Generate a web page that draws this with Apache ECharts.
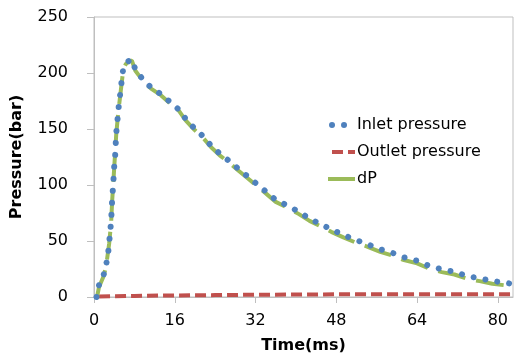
<!DOCTYPE html>
<html>
<head>
<meta charset="utf-8">
<script src="https://cdn.jsdelivr.net/npm/echarts@6/dist/echarts.min.js"></script>
<style>
  html, body { margin: 0; padding: 0; background: #fff; }
  #chart { width: 516px; height: 354px; }
</style>
</head>
<body>
<div id="chart"></div>
<script>
// [time ms, pressure bar]
const inletPressure = [
  [0.5, 0], [1.0, 10.7], [1.9, 19.6], [2.4, 28.6], [2.8, 39], [3.0, 48.5], [3.2, 58],
  [3.4, 68], [3.5, 78], [3.6, 87], [3.8, 100], [4.0, 116], [4.2, 127], [4.4, 146],
  [4.6, 155.6], [4.8, 165.5], [5.0, 175], [5.3, 185], [5.5, 194], [5.8, 204], [6.3, 208.6],
  [7.1, 211.6], [7.5, 212], [8.2, 203], [9.6, 194.6], [11.3, 187], [13.3, 181], [15.1, 174],
  [16.9, 167], [18.2, 158.7], [19.9, 150.6], [21.7, 143], [23.2, 135], [24.9, 128],
  [26.8, 121.4], [28.7, 114], [30.5, 107.4], [34.1, 94], [36, 86.6], [38.4, 81.5],
  [40.6, 76], [42.7, 70], [44.9, 65], [47, 60.4], [49.4, 55.4], [51.8, 51], [54.1, 47.3],
  [56.7, 42.6], [59, 39.6], [61.4, 35.4], [64, 32.4], [66.4, 27.7], [68.9, 24.7],
  [71.4, 22.6], [73.9, 18.75], [76.4, 16.7], [78.9, 14.3], [81.5, 12.8], [83, 11.5]
];
const outletPressure = [
  [1, 0.5], [8, 1.0], [16, 1.4], [24, 1.7], [32, 2.0], [40, 2.2], [48, 2.4],
  [56, 2.5], [64, 2.5], [72, 2.5], [83, 2.5]
];
const dP = [
  [0.6, 0], [1.0, 9], [1.9, 18.5], [2.4, 27.5], [3.0, 47.5], [3.4, 67], [3.6, 86],
  [4.0, 115], [4.4, 145], [4.8, 164.5], [5.3, 184], [5.8, 203], [6.3, 208], [7.1, 211],
  [7.5, 211], [8.2, 202], [9.6, 193.5], [11.3, 186], [13.3, 180], [15.1, 172.8],
  [16.9, 165.8], [18.2, 157.5], [19.9, 149.3], [21.7, 141.6], [23.2, 133.7], [24.9, 126.5],
  [26.8, 119.9], [28.7, 112.5], [30.5, 105.8], [34.1, 92.3], [36, 84.9], [38.4, 79.6],
  [40.6, 74], [42.7, 68], [44.9, 63], [47, 58.2], [49.4, 53.2], [51.8, 48.7], [54.1, 45],
  [56.7, 40.3], [59, 37.2], [61.4, 33], [64, 30], [66.4, 25.3], [68.9, 22.2], [71.4, 20.1],
  [73.9, 16.3], [76.4, 14.2], [78.9, 11.8], [81.5, 10.4], [83, 9.6]
];

const font = 'DejaVu Sans';
const axisGrey = '#bfbfbf';
const blue = '#4f81bd';
const red = '#c0504d';
const green = '#9bbb59';

const chart = echarts.init(document.getElementById('chart'));

const option = {
  animation: false,
  textStyle: { fontFamily: font },
  grid: {
    left: 94, right: 3, top: 17, bottom: 57,
    containLabel: false,
    outerBoundsMode: 'none',
    show: true, borderColor: axisGrey, borderWidth: 1
  },
  legend: {
    orient: 'vertical',
    left: 320,
    top: 111,
    itemWidth: 27,
    itemHeight: 14,
    itemGap: 9,
    itemStyle: { opacity: 0 },
    textStyle: { fontFamily: font, fontSize: 16, color: '#000', lineHeight: 18, padding: [0, 0, 0, -3] },
    data: [
      { name: 'Inlet pressure', lineStyle: { color: blue, width: 6, type: [0.01, 12], cap: 'round', dashOffset: -4 } },
      { name: 'Outlet pressure', lineStyle: { color: red, width: 4, type: [11, 5], cap: 'butt' } },
      { name: 'dP', lineStyle: { color: green, width: 4, type: 'solid' } }
    ]
  },
  xAxis: {
    type: 'value',
    min: 0,
    max: 83,
    interval: 16,
    name: 'Time(ms)',
    nameLocation: 'middle',
    nameGap: 41,
    nameTextStyle: { fontFamily: font, fontSize: 16, fontWeight: 'bold', color: '#000' },
    axisLine: { lineStyle: { color: axisGrey, width: 1 } },
    axisTick: { show: true, length: 6, lineStyle: { color: axisGrey } },
    axisLabel: { showMaxLabel: false, margin: 16, fontSize: 16, color: '#000', fontFamily: font },
    splitLine: { show: false }
  },
  yAxis: {
    type: 'value',
    min: 0,
    max: 250,
    interval: 50,
    name: 'Pressure(bar)',
    nameLocation: 'middle',
    nameGap: 69,
    nameTextStyle: { fontFamily: font, fontSize: 16, fontWeight: 'bold', color: '#000' },
    axisLine: { show: true, lineStyle: { color: axisGrey, width: 1 } },
    axisTick: { show: true, length: 7, lineStyle: { color: axisGrey } },
    axisLabel: { margin: 26, fontSize: 16, color: '#000', fontFamily: font },
    splitLine: { show: false }
  },
  series: [
    {
      name: 'Inlet pressure',
      type: 'line',
      data: inletPressure,
      symbol: 'none',
      z: 4,
      color: blue,
      lineStyle: { color: blue, width: 6, type: [0.01, 12], cap: 'round' }
    },
    {
      name: 'Outlet pressure',
      type: 'line',
      data: outletPressure,
      symbol: 'none',
      color: red,
      lineStyle: { color: red, width: 4, type: [11, 5], cap: 'butt' }
    },
    {
      name: 'dP',
      type: 'line',
      data: dP,
      symbol: 'none',
      color: green,
      lineStyle: { color: green, width: 4, type: [28, 11], cap: 'butt' }
    }
  ]
};

chart.setOption(option);
</script>
</body>
</html>
